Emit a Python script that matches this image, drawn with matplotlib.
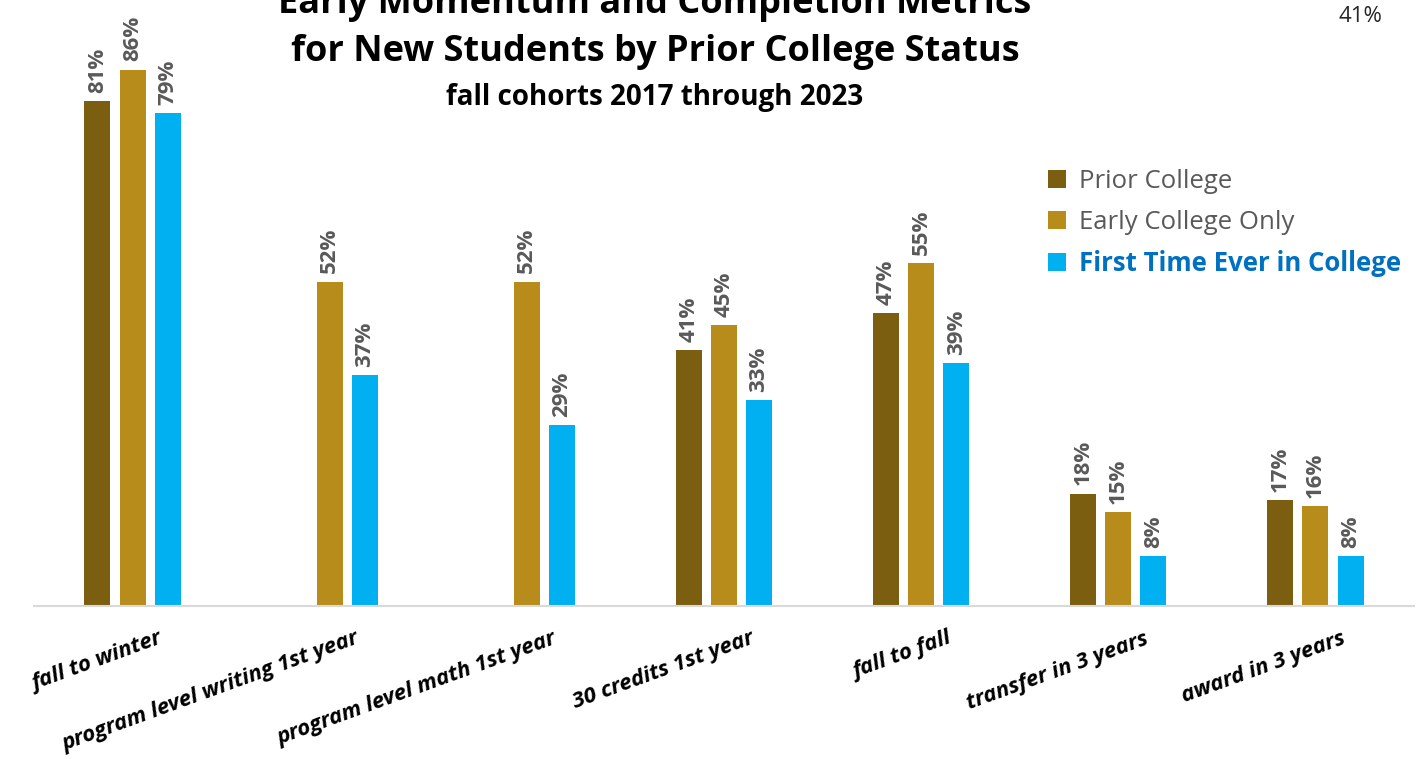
import numpy as np
import matplotlib
matplotlib.use("Agg")
import matplotlib.pyplot as plt
from matplotlib.patches import Patch

categories = ["fall to winter", "program level writing 1st year", "program level math 1st year",
              "30 credits 1st year", "fall to fall", "transfer in 3 years", "award in 3 years"]
series_names = ["Prior College", "Early College Only", "First Time Ever in College"]
prior_college = [81, np.nan, np.nan, 41, 47, 18, 17]
early_college = [86, 52, 52, 45, 55, 15, 16]
first_time = [79, 37, 29, 33, 39, 8, 8]
colors = ["#7B5E10", "#B78C1A", "#00B0F0"]
legend_text_colors = ["#595959", "#595959", "#0070C0"]

W, H = 1419, 759
fig = plt.figure(figsize=(W / 100, H / 100), dpi=100)
ax = fig.add_axes([34 / W, (H - 606) / H, 1380 / W, 606 / H])

x = np.arange(len(categories))
width = 0.132
offsets = [-0.178, 0.0, 0.178]
label_font = "Open Sans"
for vals, off, col in zip([prior_college, early_college, first_time], offsets, colors):
    vals = np.array(vals, dtype=float)
    ax.bar(x + off, vals, width=width, color=col, zorder=2)
    for xi, v in zip(x + off, vals):
        if np.isnan(v):
            continue
        ax.annotate(f"{v:.0f}%", (xi, v), xytext=(0, 6), textcoords="offset points",
                    rotation=90, ha="center", va="bottom", fontsize=16, fontweight="bold",
                    color="#595959", family=label_font)

ax.set_xlim(-0.5, len(categories) - 0.5)
ax.set_ylim(0, 97.2)
for s in ["top", "right", "left"]:
    ax.spines[s].set_visible(False)
ax.spines["bottom"].set_color("#D9D9D9")
ax.spines["bottom"].set_linewidth(1.5)
ax.set_yticks([])
ax.set_xticks(x + 0.13)
ax.set_xticklabels(categories, rotation=20, ha="right", va="top", rotation_mode="anchor",
                   fontsize=16, fontweight="bold", fontstyle="italic", family=label_font)
ax.tick_params(axis="x", length=0, pad=16)

handles = [Patch(facecolor=c, edgecolor="none") for c in colors]
leg = fig.legend(handles, series_names, loc="upper left", bbox_to_anchor=(1025 / W, 1 - 146 / H),
                 frameon=False, prop={"family": "Open Sans", "size": 18.5},
                 labelcolor=legend_text_colors, handlelength=0.7, handleheight=0.7,
                 handletextpad=0.5, labelspacing=0.6)
for t in leg.get_texts()[2:]:
    t.set_fontweight("bold")

title_font = "Open Sans"
fig.text(655 / W, 1 - 4 / H, "Early Momentum and Completion Metrics", ha="center", va="center",
         fontsize=26, fontweight="bold", family=title_font)
fig.text(655 / W, 1 - 52 / H, "for New Students by Prior College Status", ha="center", va="center",
         fontsize=26, fontweight="bold", family=title_font)
fig.text(655 / W, 1 - 97 / H, "fall cohorts 2017 through 2023", ha="center", va="center",
         fontsize=20, fontweight="bold", family=title_font)
fig.text(1360 / W, 1 - 17 / H, "41%", ha="center", va="center", fontsize=16,
         color="#262626", family=label_font)

fig.savefig("out.png", dpi=100)
